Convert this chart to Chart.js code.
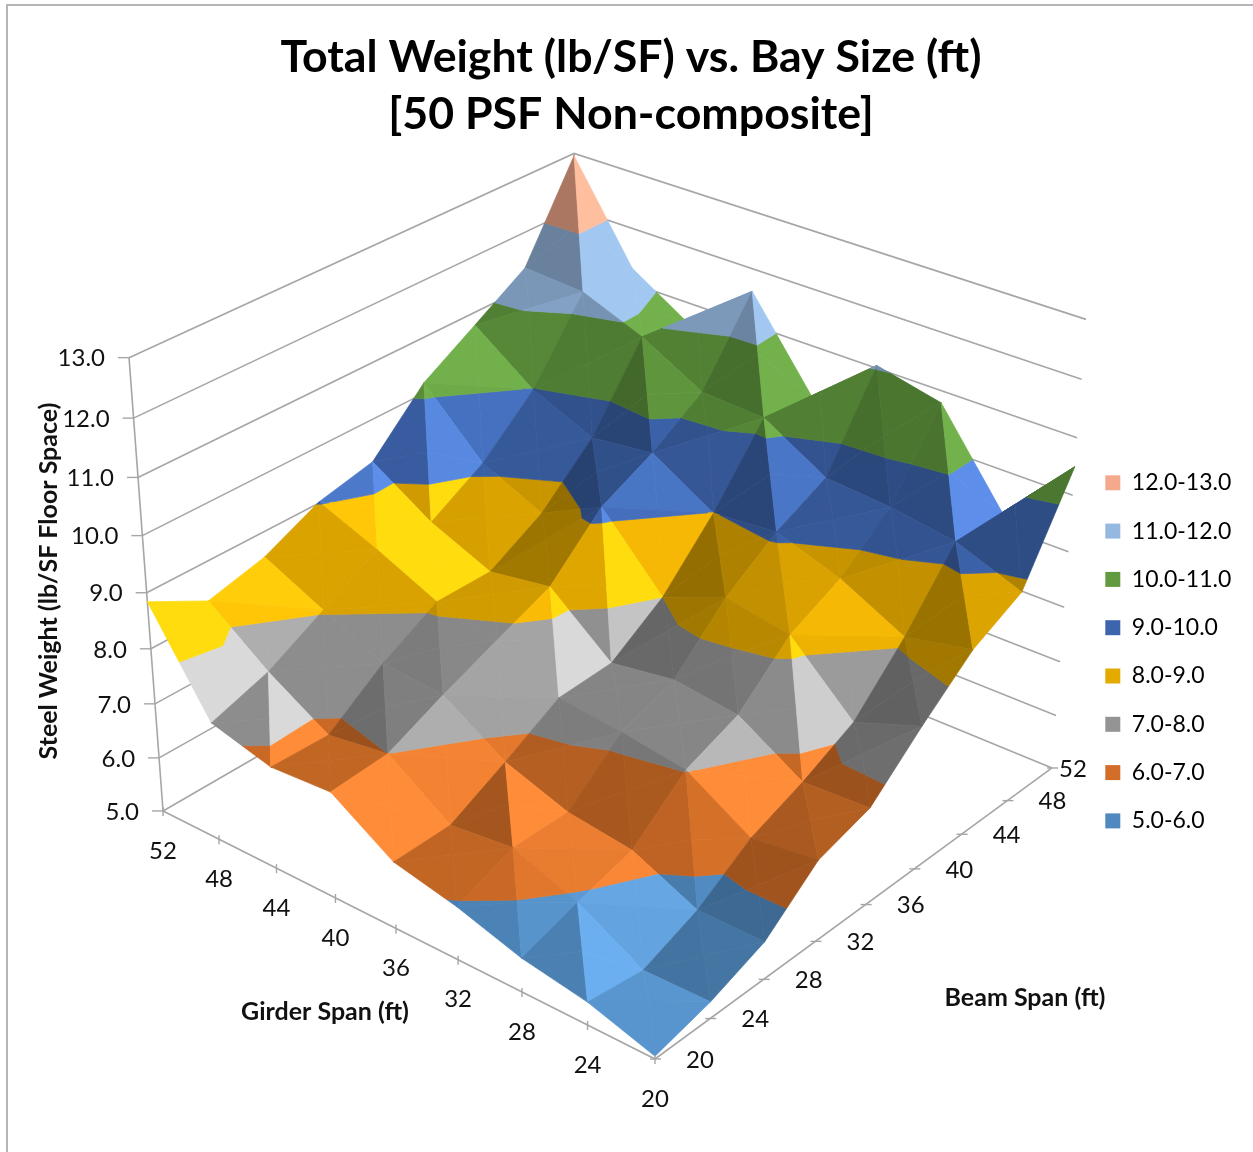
<!DOCTYPE html>
<html>
<head>
<meta charset="utf-8">
<title>Total Weight vs. Bay Size</title>
<script src="https://cdn.jsdelivr.net/npm/chart.js@4"></script>
<style>
  html, body { margin: 0; padding: 0; background: #fff; overflow: hidden; }
  canvas { display: block; }
</style>
</head>
<body>
<canvas id="chart" width="1253" height="1152"></canvas>
<script>
const girderSpans = [20, 24, 28, 32, 36, 40, 44, 48, 52];
const beamSpans = [20, 24, 28, 32, 36, 40, 44, 48, 52];
const valueTicks = [5, 6, 7, 8, 9, 10, 11, 12, 13];

// steel weight (lb/SF): one row per girder span, one column per beam span
const steelWeight = [
    [5.05, 5.30, 5.68, 6.47, 6.76, 7.60, 8.37, 8.83, 10.50],
    [5.41, 5.28, 5.68, 6.32, 6.70, 7.17, 8.12, 9.27, 9.26],
    [5.61, 5.93, 6.21, 7.02, 7.40, 8.25, 8.70, 9.45, 10.79],
    [5.96, 6.36, 6.36, 7.19, 7.54, 8.45, 9.09, 9.54, 11.05],
    [6.21, 6.23, 6.75, 7.31, 7.36, 8.00, 8.99, 10.20, 10.10],
    [6.93, 7.00, 7.46, 7.87, 8.28, 9.19, 9.65, 10.26, 11.60],
    [6.86, 6.83, 7.55, 8.10, 8.10, 8.64, 9.51, 10.86, 10.60],
    [7.15, 7.49, 8.04, 8.59, 8.56, 9.13, 9.98, 11.29, 11.28],
    [8.84, 8.30, 8.55, 9.02, 9.24, 10.19, 10.77, 11.36, 12.96]
];

const bandLabels = ['5.0-6.0', '6.0-7.0', '7.0-8.0', '8.0-9.0', '9.0-10.0', '10.0-11.0', '11.0-12.0', '12.0-13.0'];
const bandColors = ['#5089BF', '#D26E27', '#949494', '#E4AA00', '#3D65AE', '#629B3F', '#95B8E0', '#F4A98C'];
// how far each band may brighten on facets turned towards the light
const bandMaxShade = [1.25, 1.22, 1.44, 1.28, 1.33, 1.13, 1.08, 1.12];

// Camera for the 3D box: data goes to 0..1 box coordinates, then a perspective projection
const project = (girder, beam, weight) => {
    const u = (girder - 20) / 32, v = (beam - 20) / 32, z = (weight - 5) / 8;
    const w = 1 + 0.112 * u + 0.1305 * v - 0.0797 * z;
    return {
        x: (655 - 473.7 * u + 534.3 * v - 48.1 * z) / w,
        y: (1059 - 157.2 * u - 190.8 * v - 532.6 * z) / w
    };
};

const hexToRgb = hex => [1, 3, 5].map(i => parseInt(hex.slice(i, i + 2), 16));

// Brightness of a facet: lit from the right of the picture
const facetShade = ([a, b, c]) => {
    const e1 = [b[0] - a[0], b[1] - a[1], b[2] - a[2]];
    const e2 = [c[0] - a[0], c[1] - a[1], c[2] - a[2]];
    let n = [
        e1[1] * e2[2] - e1[2] * e2[1],
        e1[2] * e2[0] - e1[0] * e2[2],
        e1[0] * e2[1] - e1[1] * e2[0]
    ];
    if (n[2] < 0) n = n.map(d => -d);
    const side = (n[1] - n[0]) / Math.hypot(n[0], n[1], n[2]);
    return side > 0 ? 0.97 + 1.0 * side : Math.max(0.62, 0.97 + 0.33 * side);
};

// Keep the part of a polygon that lies on one side of a weight level
const clipSide = (poly, level, keepAbove) => {
    const out = [];
    poly.forEach((p, k) => {
        const q = poly[(k + 1) % poly.length];
        const pIn = keepAbove ? p[2] >= level : p[2] <= level;
        const qIn = keepAbove ? q[2] >= level : q[2] <= level;
        if (pIn) out.push(p);
        if (pIn !== qIn) {
            const t = (level - p[2]) / (q[2] - p[2]);
            out.push([p[0] + t * (q[0] - p[0]), p[1] + t * (q[1] - p[1]), level]);
        }
    });
    return out;
};

const toBoxPoint = p => project(20 + 4 * p[0], 20 + 4 * p[1], p[2]);

const datasets = [];
const addLine = (points, color, width) => datasets.push({
    data: points,
    showLine: true,
    fill: false,
    borderColor: color,
    borderWidth: width,
    pointRadius: 0,
    clip: false,
    order: -datasets.length
});

// Walls and floor edges
const wallColor = '#A6A6A6';
valueTicks.forEach(t => addLine([project(52, 20, t), project(52, 52, t), project(20, 52, t)], wallColor, 1.6));
addLine([project(52, 20, 5), project(52, 20, 13)], wallColor, 1.6);
addLine([project(52, 52, 5), project(52, 52, 13)], wallColor, 1.6);
addLine([project(52, 20, 5), project(20, 20, 5), project(20, 52, 5)], wallColor, 1.6);

// Surface, far cells first. Each cell is four triangles; the middle sits on the higher diagonal
const cells = [];
for (let i = 0; i < 8; i++) for (let j = 0; j < 8; j++) cells.push([i, j]);
cells.sort((a, b) => (b[0] + b[1]) - (a[0] + a[1]));

cells.forEach(([i, j]) => {
    const c00 = [i, j, steelWeight[i][j]];
    const c10 = [i + 1, j, steelWeight[i + 1][j]];
    const c01 = [i, j + 1, steelWeight[i][j + 1]];
    const c11 = [i + 1, j + 1, steelWeight[i + 1][j + 1]];
    const mid = [i + 0.5, j + 0.5, Math.max((c00[2] + c11[2]) / 2, (c10[2] + c01[2]) / 2)];
    [[c10, c11], [c01, c11], [c00, c10], [c00, c01]].forEach(([p, q]) => {
        const tri = [p, q, mid];
        const shade = facetShade(tri);
        bandColors.forEach((color, b) => {
            const piece = clipSide(clipSide(tri, 5 + b, true), 6 + b, false);
            if (piece.length < 3) return;
            const pts = piece.map(toBoxPoint);
            const m = Math.min(shade, bandMaxShade[b]);
            // brighter facets also wash out a little towards white
            const wash = Math.max(0, m - 1) * 0.2;
            const rgb = hexToRgb(color).map(c => {
                const lit = Math.min(255, c * m);
                return Math.round(lit + (255 - lit) * wash);
            });
            const fillColor = `rgb(${rgb.join(',')})`;
            datasets.push({
                data: pts.concat([pts[0]]),
                showLine: true,
                fill: 'shape',
                backgroundColor: fillColor,
                borderColor: fillColor,
                borderWidth: 0.7,
                pointRadius: 0,
                clip: false,
                order: -datasets.length
            });
        });
    });
});

// Hidden x/y scales are matched to canvas pixels, and the legend is put where it sits in the picture
const boxLayout = {
    id: 'boxLayout',
    afterLayout(chart) {
        const area = chart.chartArea;
        const { x, y } = chart.scales;
        x.min = area.left; x.max = area.right; x.configure();
        y.min = area.top; y.max = area.bottom; y.configure();
        const legend = chart.legend;
        const h = legend.bottom - legend.top;
        legend.left = 1080;
        legend.top = 446;
        legend.bottom = legend.top + h;
    }
};

// Frame, tick marks, tick labels and axis titles
const axisText = {
    id: 'axisText',
    beforeDraw(chart) {
        const ctx = chart.ctx;
        ctx.save();
        ctx.strokeStyle = '#B5B5B5';
        ctx.lineWidth = 2;
        ctx.beginPath();
        ctx.moveTo(7, 1152);
        ctx.lineTo(7, 5);
        ctx.lineTo(1253, 5);
        ctx.stroke();
        ctx.restore();
    },
    afterDraw(chart) {
        const ctx = chart.ctx;
        const { x, y } = chart.scales;
        const at = p => ({ x: x.getPixelForValue(p.x), y: y.getPixelForValue(p.y) });
        const tick = (p, dx0, dy0, dx1, dy1) => {
            ctx.beginPath();
            ctx.moveTo(p.x + dx0, p.y + dy0);
            ctx.lineTo(p.x + dx1, p.y + dy1);
            ctx.stroke();
        };
        ctx.save();
        ctx.strokeStyle = wallColor;
        ctx.lineWidth = 1.4;
        ctx.fillStyle = '#111';
        ctx.textBaseline = 'middle';
        ctx.font = '24px Lato';

        ctx.textAlign = 'right';
        valueTicks.forEach(t => {
            const p = at(project(52, 20, t));
            tick(p, -11, 0, 0, 0);
            ctx.fillText(t.toFixed(1), p.x - 24, p.y + 1);
        });

        ctx.textAlign = 'center';
        girderSpans.forEach(g => {
            const p = at(project(g, 20, 5));
            tick(p, 0, -4, 0, 5);
            ctx.fillText(String(g), p.x, p.y + 40);
        });
        beamSpans.forEach(b => {
            const p = at(project(20, b, 5));
            tick(p, -5, 0, 6, 0);
            ctx.fillText(String(b), p.x + (b === 52 ? 21 : 45), p.y + 1);
        });

        ctx.font = 'bold 25px Lato';
        ctx.fillText('Girder Span (ft)', 325, 1012);
        ctx.fillText('Beam Span (ft)', 1025, 998);
        ctx.translate(49, 581);
        ctx.rotate(-Math.PI / 2);
        ctx.fillText('Steel Weight (lb/SF Floor Space)', 0, 0);
        ctx.restore();
    }
};

new Chart(document.getElementById('chart').getContext('2d'), {
    type: 'scatter',
    data: { datasets },
    plugins: [boxLayout, axisText],
    options: {
        responsive: false,
        animation: false,
        events: [],
        layout: { padding: { left: 9 } },
        scales: {
            x: { type: 'linear', display: false },
            y: { type: 'linear', display: false, reverse: true }
        },
        plugins: {
            tooltip: { enabled: false },
            title: {
                display: true,
                text: ['Total Weight (lb/SF) vs. Bay Size (ft)', '[50 PSF Non-composite]'],
                color: '#000',
                font: { family: 'Lato', size: 44.7, weight: 'bold', lineHeight: 1.275 },
                padding: { top: 29, bottom: 0 }
            },
            legend: {
                display: true,
                position: 'right',
                align: 'start',
                labels: {
                    boxWidth: 15,
                    boxHeight: 15,
                    padding: 25.3,
                    color: '#111',
                    font: { family: 'Lato', size: 23 },
                    generateLabels: () => bandLabels.map((text, b) => ({
                        text,
                        fillStyle: bandColors[b],
                        strokeStyle: bandColors[b],
                        lineWidth: 0,
                        hidden: false,
                        datasetIndex: b
                    })).reverse()
                }
            }
        }
    }
});
</script>
</body>
</html>
